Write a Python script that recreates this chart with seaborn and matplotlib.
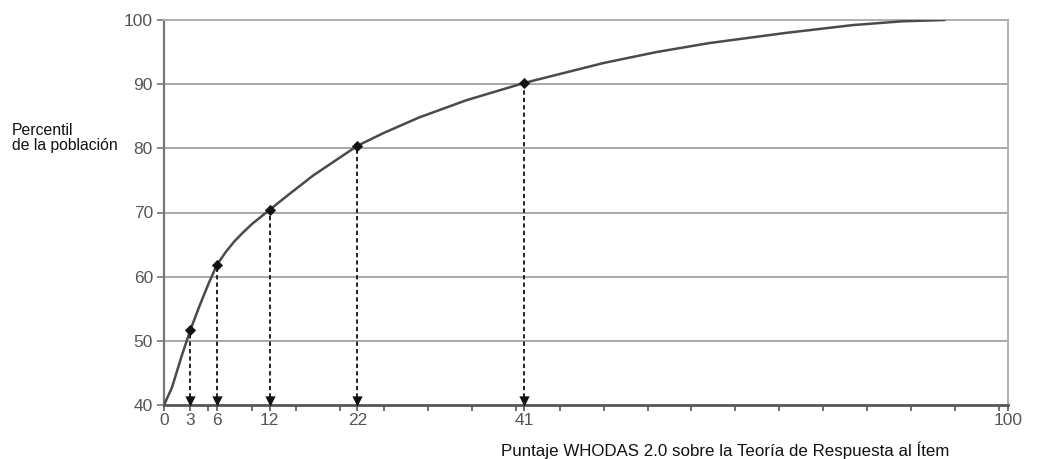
import numpy as np
import pandas as pd
import matplotlib
matplotlib.use("Agg")
import matplotlib.pyplot as plt
import matplotlib.transforms as mtransforms
from matplotlib.ticker import MultipleLocator, FixedLocator
import seaborn as sns

# ---- data ----
curve_x = [0, 0.9, 2, 3, 4, 5, 6, 7, 8, 9, 10, 11, 12, 14, 17, 22, 25, 29, 34.4,
           41, 50, 56, 62, 70.8, 78.3, 84, 88.8]
curve_y = [40, 42.7, 47.6, 51.7, 55.3, 58.7, 61.8, 63.8, 65.5, 66.9, 68.2, 69.3, 70.4,
           72.6, 75.8, 80.4, 82.4, 84.8, 87.5, 90.2, 93.3, 95.0, 96.4, 98.0, 99.2, 99.8, 100]
marked_x = [3, 6, 12, 22, 41]
marked_y = [51.7, 61.8, 70.4, 80.4, 90.2]
xtick_labels = ["0", "3", "6", "12", "22", "41", "100"]
xtick_values = [0, 3, 6, 12, 22, 41, 96]
ytick_labels = [40, 50, 60, 70, 80, 90, 100]
ylabel_text = "Percentil\nde la población"
xlabel_text = "Puntaje WHODAS 2.0 sobre la Teoría de Respuesta al Ítem"

sns.set_theme(style="white")
plt.rcParams['font.family'] = ['Liberation Sans', 'DejaVu Sans']

fig = plt.figure(figsize=(10.56, 4.59), dpi=100)
ax = fig.add_axes([164/1056, 1-405/459, (1008-164)/1056, (405-20)/459])

curve = pd.DataFrame({"x": curve_x, "y": curve_y})
marks = pd.DataFrame({"x": marked_x, "y": marked_y})

ax.set_xlim(xtick_values[0], xtick_values[-1])
ax.set_ylim(ytick_labels[0], ytick_labels[-1])

# grid lines
for v in ytick_labels[1:]:
    ax.axhline(v, color="#a8a8a8", lw=1.4, zorder=0)

# dotted drop lines
ax.vlines(marks["x"], 40, marks["y"], colors="#222222", linestyles=(0, (2.2, 1.6)), lw=1.4, zorder=2)
off = mtransforms.offset_copy(ax.transData, fig=fig, x=0, y=4.5, units='dots')
ax.scatter(marks["x"], [40]*len(marks), marker="v", s=55, color="#111111",
           transform=off, zorder=4, clip_on=False, linewidths=0)

sns.lineplot(data=curve, x="x", y="y", ax=ax, color="#4a4a4a", lw=1.8, zorder=3, sort=False)
sns.scatterplot(data=marks, x="x", y="y", ax=ax, marker="D", s=28, color="#111111",
                edgecolor="#111111", zorder=5)

ax.set_xlabel("")
ax.set_ylabel("")

ax.xaxis.set_major_locator(FixedLocator(xtick_values))
ax.set_xticklabels(xtick_labels)
ax.xaxis.set_minor_locator(MultipleLocator(5))
ax.set_yticks(ytick_labels)
ax.set_yticklabels([str(v) for v in ytick_labels])

ax.tick_params(axis="x", which="both", direction="out", length=4, width=1.2,
               color="#555555", bottom=True, labelsize=12.5, labelcolor="#555555", pad=2)
ax.tick_params(axis="y", which="major", direction="out", length=5, width=1.2,
               color="#777777", left=True, labelsize=12.5, labelcolor="#555555", pad=3)

for side in ["top", "right"]:
    ax.spines[side].set_color("#b0b0b0")
    ax.spines[side].set_linewidth(1.4)
ax.spines["left"].set_color("#777777")
ax.spines["left"].set_linewidth(1.6)
ax.spines["bottom"].set_color("#555555")
ax.spines["bottom"].set_linewidth(2.0)

fig.text(12/1056, 1-138/459, ylabel_text, ha="left", va="center", fontsize=11.3, color="#111111", linespacing=1.0)
fig.text(725/1056, 1-450/459, xlabel_text, ha="center", va="center", fontsize=12.2, color="#111111")

fig.savefig("out.png", dpi=100)
